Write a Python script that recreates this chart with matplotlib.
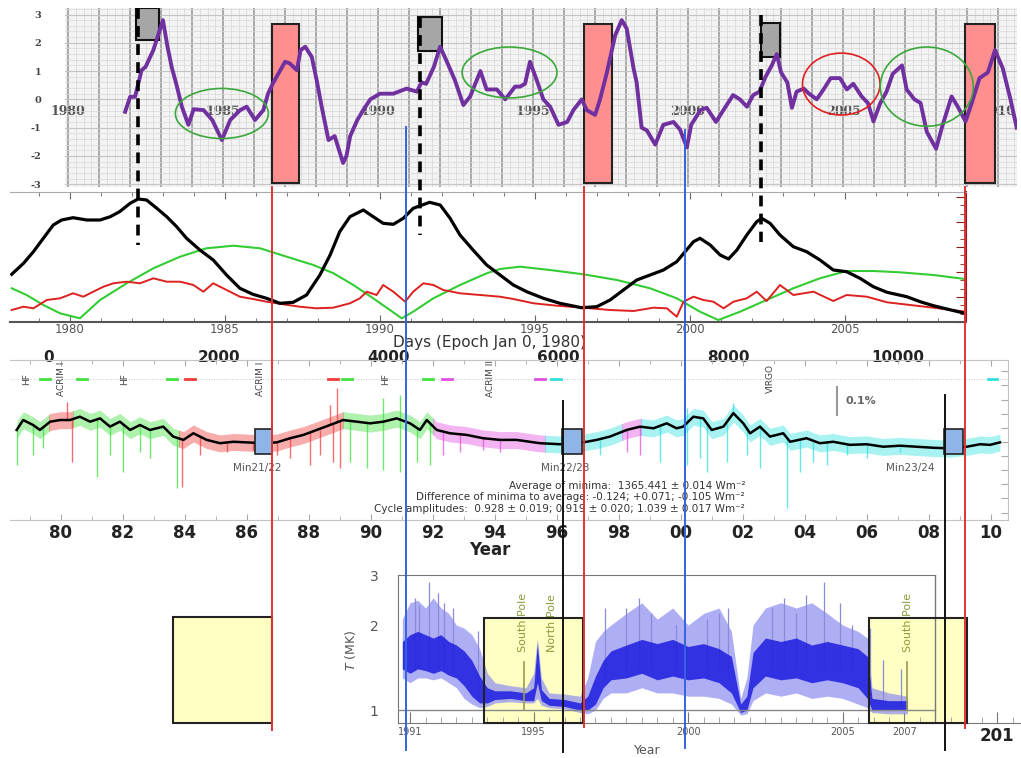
import numpy as np
import matplotlib
matplotlib.use('Agg')
import matplotlib.pyplot as plt
import matplotlib.transforms as mtransforms
from matplotlib.lines import Line2D
from matplotlib.patches import Rectangle, Ellipse
from matplotlib.ticker import MultipleLocator, NullLocator

plt.rcParams['axes.unicode_minus'] = False

W, H = 1021, 758

# ---------------- panel 1: ENSO index ----------------
enso_year = [1981.84, 1982.0, 1982.16, 1982.37, 1982.5, 1982.75, 1983.06, 1983.2, 1983.34, 1983.5,
             1983.67, 1983.88, 1984.05, 1984.37, 1984.65, 1984.96, 1985.23, 1985.55, 1985.76, 1986.03,
             1986.3, 1986.45, 1986.6, 1987.0, 1987.15, 1987.38, 1987.5, 1987.65, 1987.86, 1988.02,
             1988.18, 1988.4, 1988.6, 1988.77, 1988.87, 1988.98, 1989.1, 1989.33, 1989.52, 1989.75,
             1990.06, 1990.49, 1990.92, 1991.25, 1991.4, 1991.55, 1991.8, 1992.0, 1992.2, 1992.48,
             1992.75, 1992.97, 1993.3, 1993.5, 1993.83, 1994.1, 1994.42, 1994.58, 1994.74, 1994.9,
             1995.12, 1995.33, 1995.55, 1995.82, 1996.1, 1996.3, 1996.57, 1996.73, 1997.0, 1997.16,
             1997.38, 1997.65, 1997.86, 1998.02, 1998.24, 1998.34, 1998.5, 1998.67, 1998.94, 1999.2,
             1999.53, 1999.74, 1999.96, 2000.1, 2000.4, 2000.6, 2000.9, 2001.1, 2001.45, 2001.67,
             2001.9, 2002.1, 2002.3, 2002.5, 2002.7, 2002.86, 2003.0, 2003.2, 2003.35, 2003.5,
             2003.73, 2003.9, 2004.15, 2004.37, 2004.6, 2004.9, 2005.12, 2005.33, 2005.6, 2005.8,
             2005.98, 2006.2, 2006.4, 2006.6, 2006.9, 2007.05, 2007.3, 2007.5, 2007.7, 2008.0,
             2008.2, 2008.5, 2008.7, 2008.95, 2009.15, 2009.4, 2009.67, 2009.9, 2010.15, 2010.4,
             2010.6]
enso_val = [-0.44, 0.09, 0.09, 1.03, 1.15, 1.74, 2.8, 1.9, 1.15, 0.5,
            -0.26, -0.9, -0.35, -0.38, -0.73, -1.44, -0.73, -0.38, -0.26, -0.73,
            -0.38, 0.2, 0.55, 1.33, 1.27, 1.03, 1.74, 1.86, 1.5, 0.67,
            -0.26, -1.44, -1.3, -1.9, -2.25, -2.0, -1.3, -0.73, -0.38, 0.0,
            0.2, 0.2, 0.38, 0.27, 0.6, 0.55, 1.15, 1.86, 1.38, 0.67,
            -0.2, 0.1, 1.0, 0.35, 0.35, 0.0, 0.45, 0.45, 0.55, 1.33,
            0.67, 0.0, -0.26, -0.9, -0.8, -0.38, 0.0, -0.38, -0.55, 0.0,
            0.95, 2.27, 2.8, 2.5, 1.1, 0.6, -1.0, -1.1, -1.6, -0.9,
            -0.8, -1.07, -1.7, -0.9, -0.38, -0.3, -0.8, -0.45, 0.15, 0.0,
            -0.26, 0.15, 0.27, 0.8, 1.2, 1.6, 0.95, 0.6, -0.3, 0.27,
            0.38, 0.2, 0.0, 0.35, 0.75, 0.75, 0.35, 0.55, 0.1, -0.13,
            -0.78, -0.13, 0.27, 0.9, 1.2, 0.35, 0.0, -0.13, -1.15, -1.75,
            -0.95, 0.1, -0.26, -0.78, -0.13, 0.75, 0.95, 1.74, 1.1, 0.0,
            -1.0]
enso_label_years = [1980, 1985, 1990, 1995, 2000, 2005, 2010]
red_box_years = [(1986.57, 1987.45), (1996.65, 1997.54), (2008.94, 2009.9)]
gray_boxes = [(1982.2, 1982.94, 2.1, 3.23), (1991.3, 1992.06, 1.7, 2.9), (2002.35, 2002.95, 1.5, 2.7)]
ellipses = [(1984.96, -0.5, 3.0, 1.77, '#3aa83a'), (1994.24, 0.95, 3.06, 1.8, '#3aa83a'),
            (2004.94, 0.54, 2.5, 2.19, '#e02020'), (2007.7, 0.45, 3.0, 2.8, '#3aa83a')]

# ---------------- panel 2: sunspots / green / red ----------------
sun_year = [1978.12, 1978.5, 1978.82, 1979.14, 1979.46, 1979.73, 1980.1, 1980.54, 1980.97, 1981.3,
            1981.6, 1981.94, 1982.2, 1982.47, 1982.8, 1983.12, 1983.44, 1983.76, 1984.19, 1984.62,
            1985.05, 1985.48, 1985.9, 1986.34, 1986.77, 1987.2, 1987.63, 1988.06, 1988.39, 1988.7,
            1989.03, 1989.46, 1989.78, 1990.1, 1990.43, 1990.75, 1991.07, 1991.6, 1991.94, 1992.26,
            1992.58, 1993.0, 1993.44, 1993.87, 1994.3, 1994.73, 1995.27, 1995.8, 1996.5, 1996.99,
            1997.42, 1997.85, 1998.28, 1998.71, 1999.14, 1999.57, 1999.84, 2000.11, 2000.32, 2000.65,
            2000.97, 2001.24, 2001.51, 2001.83, 2002.15, 2002.31, 2002.58, 2002.9, 2003.33, 2003.76,
            2004.19, 2004.62, 2005.05, 2005.48, 2005.91, 2006.35, 2006.99, 2007.42, 2007.85, 2008.28,
            2008.87]
sun_val = [47.7, 58.7, 70.3, 83.7, 97, 102, 104.3, 102, 102, 105.3,
           110.3, 118.7, 123, 122, 113.7, 105.3, 95.3, 83.7, 72, 62,
           47, 33.7, 27.7, 23.7, 18.7, 19.7, 27, 47, 67, 90.3,
           105.3, 112, 105.3, 98.7, 97.7, 103.7, 113.7, 119.7, 117, 103.7,
           87, 72, 57, 47, 37, 30.3, 23.7, 18.7, 14.3, 15.3,
           22, 32, 42, 47, 52, 60.3, 70.3, 80.3, 83.7, 77,
           67, 63, 72, 87, 100.3, 103.7, 98.7, 87, 75.3, 70.3,
           62, 52, 50.3, 43.7, 35.3, 29.7, 25.3, 20.3, 16.3, 13,
           8.7]
green_year = [1978.12, 1978.6, 1979.14, 1979.68, 1980.32, 1980.97, 1981.83, 1982.69, 1983.55, 1984.4,
              1985.27, 1986.13, 1986.99, 1987.85, 1988.5, 1989.14, 1989.78, 1990.32, 1990.7, 1991.07,
              1991.72, 1992.58, 1993.44, 1993.87, 1994.52, 1995.48, 1996.56, 1997.64, 1998.71, 1999.57,
              2000.32, 2000.91, 2001.61, 2002.47, 2003.33, 2004.19, 2005.05, 2005.91, 2006.77, 2007.85,
              2008.87]
green_val = [33.7, 27, 17, 8.7, 3.7, 22, 38.7, 53.7, 65.3, 73.7,
             76.3, 73.7, 65.3, 57, 48.7, 37, 23.7, 12, 3.7, 10.3,
             23.7, 37, 48.7, 53, 55.3, 52, 47.7, 42, 33.7, 23.7,
             10.3, 2, 10.3, 22, 33.7, 43.7, 51, 51, 49.7, 47,
             43]
red_year = [1978.12, 1978.5, 1978.82, 1979.25, 1979.68, 1980.1, 1980.43, 1980.75, 1981.08, 1981.4,
            1981.83, 1982.26, 1982.69, 1983.12, 1983.55, 1983.98, 1984.3, 1984.62, 1985.05, 1985.48,
            1985.9, 1986.34, 1986.88, 1987.41, 1987.95, 1988.49, 1989.03, 1989.35, 1989.57, 1989.89,
            1990.1, 1990.43, 1990.81, 1991.07, 1991.4, 1991.72, 1992.04, 1992.58, 1993.23, 1993.87,
            1994.3, 1994.95, 1995.7, 1996.56, 1997.42, 1998.18, 1998.82, 1999.25, 1999.57, 1999.79,
            2000.11, 2000.43, 2000.75, 2001.08, 2001.4, 2001.83, 2002.15, 2002.47, 2002.9, 2003.33,
            2003.98, 2004.62, 2005.05, 2005.7, 2006.35, 2007.1, 2007.85, 2008.87]
red_val = [12, 15.3, 13.7, 22, 23.7, 28.7, 25.3, 30.3, 35.3, 38.7,
           40.3, 38.7, 43.7, 40.3, 40.3, 37, 30.3, 38.7, 32, 25.3,
           23, 20.3, 17.7, 15.3, 13.7, 14.3, 18.7, 23.7, 30.3, 27,
           37, 30.3, 20.3, 30.3, 38.7, 37, 32, 28.7, 27, 25.3,
           23, 18.7, 16.3, 14.3, 12, 11, 14.3, 13.7, 5.3, 20.3,
           25.3, 22, 20.3, 13.7, 20.3, 23.7, 30.3, 21, 37, 27,
           30.3, 21, 27, 25.3, 19.7, 17, 14.3, 10.3]
day_ticks = [0, 2000, 4000, 6000, 8000, 10000]

# ---------------- panel 3: TSI composite ----------------
tsi_year = [1978.57, 1978.78, 1979.1, 1979.32, 1979.65, 1979.97, 1980.29, 1980.61, 1980.94, 1981.26,
            1981.58, 1981.9, 1982.23, 1982.55, 1982.87, 1983.3, 1983.62, 1983.95, 1984.27, 1984.7,
            1985.13, 1985.56, 1985.99, 1986.53, 1986.96, 1987.39, 1987.82, 1988.25, 1988.68, 1989.1,
            1989.54, 1989.97, 1990.4, 1990.83, 1991.26, 1991.58, 1991.8, 1992.12, 1992.55, 1993.09,
            1993.62, 1994.16, 1994.7, 1995.45, 1996.1, 1996.85, 1997.28, 1997.71, 1998.25, 1998.68,
            1999.11, 1999.54, 1999.86, 2000.07, 2000.4, 2000.72, 2000.99, 2001.37, 2001.69, 2002.01,
            2002.23, 2002.55, 2002.87, 2003.3, 2003.52, 2004.05, 2004.48, 2004.91, 2005.45, 2005.99,
            2006.53, 2007.06, 2007.6, 2008.14, 2008.68, 2009.22, 2009.65, 2009.97, 2010.29]
tsi_val = [1365.98, 1366.46, 1366.22, 1365.98, 1366.38, 1366.46, 1366.46, 1366.62, 1366.38, 1366.54,
           1366.14, 1366.38, 1365.98, 1366.22, 1365.98, 1366.14, 1365.66, 1365.5, 1365.82, 1365.5,
           1365.34, 1365.41, 1365.38, 1365.34, 1365.38, 1365.58, 1365.74, 1365.98, 1366.22, 1366.46,
           1366.38, 1366.3, 1366.38, 1366.54, 1366.3, 1365.98, 1366.46, 1365.98, 1365.82, 1365.74,
           1365.58, 1365.5, 1365.5, 1365.34, 1365.29, 1365.38, 1365.5, 1365.66, 1365.98, 1366.14,
           1366.06, 1366.3, 1366.06, 1366.14, 1366.62, 1366.54, 1365.98, 1366.14, 1366.79, 1366.3,
           1365.82, 1366.14, 1365.66, 1365.82, 1365.41, 1365.58, 1365.34, 1365.41, 1365.26, 1365.29,
           1365.17, 1365.22, 1365.17, 1365.12, 1365.09, 1365.17, 1365.29, 1365.26, 1365.38]
# (year, low end, high end) of the single-day excursions
tsi_spikes = [(1978.57, 1364.29, 1366.0), (1979.11, 1364.77, 1366.2), (1979.43, 1365.1, 1366.1),
              (1980.35, 1364.45, 1366.5), (1981.15, 1363.72, 1366.5), (1981.58, 1364.77, 1366.2),
              (1982.01, 1363.97, 1366.3), (1982.55, 1364.93, 1366.2), (1982.87, 1364.61, 1366.0),
              (1983.73, 1363.16, 1365.6), (1983.89, 1363.24, 1365.5), (1984.48, 1364.77, 1365.7),
              (1985.35, 1364.93, 1365.4), (1986.2, 1365.01, 1365.4), (1986.96, 1364.77, 1365.4),
              (1987.39, 1364.61, 1365.6), (1988.03, 1364.29, 1365.9), (1988.35, 1364.77, 1366.0),
              (1988.78, 1364.45, 1366.3), (1989.0, 1364.13, 1366.4), (1989.32, 1364.45, 1366.4),
              (1989.86, 1364.13, 1366.3), (1990.4, 1364.05, 1366.4), (1990.94, 1363.97, 1366.5),
              (1991.47, 1364.45, 1366.1), (1991.9, 1364.29, 1366.3), (1992.33, 1364.77, 1365.9),
              (1992.87, 1364.93, 1365.8), (1993.62, 1365.01, 1365.6), (1994.16, 1364.93, 1365.5),
              (1997.39, 1364.77, 1365.5), (1998.25, 1364.93, 1366.0), (1998.68, 1364.77, 1366.1),
              (1999.32, 1364.45, 1366.2), (2000.18, 1364.29, 1366.3), (2000.61, 1364.61, 1366.6),
              (2000.83, 1363.97, 1366.3), (2001.47, 1364.45, 1366.3), (2002.12, 1364.77, 1366.1),
              (2002.55, 1364.13, 1366.1), (2003.41, 1362.2, 1365.6), (2003.84, 1363.97, 1365.5),
              (2004.27, 1364.45, 1365.5), (2004.7, 1364.29, 1365.4), (2005.35, 1364.77, 1365.3),
              (2005.99, 1364.61, 1365.3), (2007.06, 1364.93, 1365.2),
              (1980.18, 1366.5, 1367.35), (1988.68, 1366.2, 1367.19), (1988.89, 1366.3, 1368.0),
              (1990.4, 1366.4, 1367.51), (1990.94, 1366.5, 1367.67), (2000.18, 1366.3, 1367.03),
              (2001.69, 1366.8, 1367.27)]
tsi_segments = [(1978.4, 1979.6, 'g'), (1979.6, 1980.4, 'r'), (1980.4, 1983.8, 'g'), (1983.8, 1989.1, 'r'),
                (1989.1, 1992.0, 'g'), (1992.0, 1995.6, 'm'), (1995.6, 1998.1, 'c'), (1998.1, 1998.7, 'm'),
                (1998.7, 2010.4, 'c')]
tsi_instruments = [('HF', 1978.9), ('ACRIM I', 1980.03), ('HF', 1982.06), ('ACRIM I', 1986.42),
                   ('HF', 1990.48), ('ACRIM II', 1993.87), ('VIRGO', 2002.87)]
tsi_key_marks = [(1979.48, 'g'), (1980.68, 'g'), (1983.58, 'g'), (1984.16, 'r'), (1988.77, 'r'),
                 (1989.23, 'g'), (1991.84, 'g'), (1992.45, 'm'), (1995.45, 'm'), (1995.97, 'c'),
                 (2010.06, 'c')]
tsi_minima = [(1986.26, 1986.8, 'Min21/22', 1986.32), (1996.15, 1996.8, 'Min22/23', 1996.26),
              (2008.5, 2009.1, 'Min23/24', 2007.4)]
tsi_tick_years = list(range(1980, 2011, 2))
tsi_tick_labels = ['80', '82', '84', '86', '88', '90', '92', '94', '96', '98',
                   '00', '02', '04', '06', '08', '10']
tsi_notes = ['Average of minima:  1365.441 \u00b1 0.014 Wm\u207b\u00b2',
             'Difference of minima to average: -0.124; +0.071; -0.105 Wm\u207b\u00b2',
             'Cycle amplitudes:  0.928 \u00b1 0.019; 0.919 \u00b1 0.020; 1.039 \u00b1 0.017 Wm\u207b\u00b2']

# ---------------- panel 4: coronal temperature ----------------
# (year, light low, dark low, dark high, light high) in MK
corona_band = [(1990.75, 1.30, 1.40, 1.75, 2.10), (1991.0, 1.25, 1.35, 1.85, 2.40),
               (1991.25, 1.30, 1.40, 1.90, 2.45), (1991.5, 1.30, 1.38, 1.85, 2.30),
               (1991.75, 1.28, 1.35, 1.80, 2.50), (1992.0, 1.30, 1.38, 1.85, 2.30),
               (1992.25, 1.25, 1.33, 1.75, 2.20), (1992.5, 1.20, 1.30, 1.70, 2.00),
               (1992.75, 1.10, 1.22, 1.62, 1.95), (1993.0, 1.05, 1.12, 1.50, 1.85),
               (1993.25, 1.02, 1.06, 1.32, 1.65), (1993.5, 1.03, 1.06, 1.20, 1.35),
               (1993.75, 1.06, 1.09, 1.17, 1.25), (1994.25, 1.07, 1.10, 1.17, 1.22),
               (1994.75, 1.06, 1.08, 1.15, 1.20), (1995.0, 1.06, 1.08, 1.20, 1.35),
               (1995.12, 1.10, 1.25, 1.72, 1.80), (1995.25, 1.04, 1.08, 1.18, 1.30),
               (1995.5, 1.02, 1.04, 1.10, 1.15), (1996.0, 1.01, 1.03, 1.09, 1.14),
               (1996.5, 0.98, 1.00, 1.06, 1.12), (1996.75, 0.97, 1.00, 1.12, 1.30),
               (1997.0, 1.00, 1.05, 1.32, 1.75), (1997.25, 1.10, 1.20, 1.50, 1.90),
               (1997.5, 1.15, 1.28, 1.62, 2.00), (1998.0, 1.15, 1.30, 1.70, 2.20),
               (1998.5, 1.20, 1.35, 1.78, 2.40), (1999.0, 1.15, 1.28, 1.72, 2.10),
               (1999.5, 1.15, 1.32, 1.78, 2.30), (2000.0, 1.12, 1.28, 1.68, 2.00),
               (2000.5, 1.12, 1.30, 1.72, 2.20), (2001.0, 1.10, 1.25, 1.65, 2.30),
               (2001.4, 1.05, 1.15, 1.55, 1.90), (2001.7, 0.96, 0.98, 1.05, 1.10),
               (2001.9, 0.97, 1.00, 1.12, 1.30), (2002.1, 1.08, 1.20, 1.60, 2.00),
               (2002.5, 1.15, 1.32, 1.80, 2.30), (2003.0, 1.12, 1.28, 1.75, 2.40),
               (2003.5, 1.15, 1.30, 1.80, 2.30), (2004.0, 1.10, 1.25, 1.70, 2.40),
               (2004.5, 1.12, 1.28, 1.75, 2.20), (2005.0, 1.10, 1.25, 1.70, 2.00),
               (2005.5, 1.05, 1.20, 1.65, 1.90), (2005.8, 1.02, 1.10, 1.55, 1.80),
               (2005.95, 0.98, 1.00, 1.10, 1.20), (2006.5, 0.97, 1.00, 1.08, 1.15),
               (2007.1, 0.97, 1.00, 1.08, 1.12)]
corona_spikes = [(1991.15, 1.4, 2.5), (1991.3, 1.4, 2.35), (1991.6, 1.4, 2.84), (1991.9, 1.4, 2.6),
                 (1992.1, 1.4, 2.4), (1992.4, 1.35, 2.3), (1993.2, 1.1, 1.9), (1997.3, 1.3, 2.3),
                 (1998.0, 1.4, 2.3), (1998.4, 1.4, 2.5), (1998.8, 1.4, 2.2), (1999.6, 1.4, 2.0),
                 (2000.6, 1.4, 2.1), (2001.0, 1.4, 2.2), (2001.3, 1.4, 2.3), (2002.7, 1.4, 2.3),
                 (2003.1, 1.4, 2.5), (2003.5, 1.4, 2.2), (2003.8, 1.4, 2.55), (2004.4, 1.4, 2.85),
                 (2004.9, 1.4, 2.4), (2005.3, 1.4, 2.0), (2005.9, 1.2, 1.95), (2006.3, 1.05, 1.5),
                 (2006.9, 1.05, 1.4)]
pole_marks = [('South Pole', 1994.66), ('North Pole', 1995.59), ('South Pole', 2007.12)]
pole_lines = [1994.7, 2007.07]
corona_boxes = [(1993.4, 1996.61), (2005.86, 2009.01)]
corona_ticks = [1991, 1995, 2000, 2005, 2007, 2010]
corona_tick_labels = ['1991', '1995', '2000', '2005', '2007', '201']

# ---------------- event lines across panels (years on the top panel) ----------------
red_events = [1986.57, 1996.65, 2008.94]
blue_events = [1990.9, 1999.9]
black_events = [1995.97, 2008.29]
dash_events = [1982.26, 1991.35, 2002.35]

seg_colors = {'g': '#3fe03f', 'r': '#f03c3c', 'm': '#e050e0', 'c': '#30e0e0'}


def px_rect(left, top, right, bottom):
    return [left / W, 1 - bottom / H, (right - left) / W, (bottom - top) / H]


fig = plt.figure(figsize=(W / 100, H / 100), dpi=100)

# ---- panel 1 ----
ax1 = fig.add_axes(px_rect(65, 8, 1017, 187))
ax1.set_facecolor('#f3f3f3')
ax1.set_xlim(1979.9, 2010.61)
ax1.set_ylim(-3.1, 3.23)
ax1.set_axisbelow(True)
for s in ax1.spines.values():
    s.set_visible(False)
ax1.spines['bottom'].set_position(('data', 0))
years = list(range(1980, 2011))
ax1.set_xticks(years, [str(y) if y in enso_label_years else '' for y in years],
               fontsize=9, fontweight='bold', family='DejaVu Serif', color='#555')
ax1.xaxis.set_minor_locator(MultipleLocator(0.25))
ax1.set_yticks([-3, -2, -1, 0, 1, 2, 3], ['-3', '-2', '-1', '0', '1', '2', '3'],
               fontsize=7, fontweight='bold', family='DejaVu Serif', color='#444')
ax1.yaxis.set_minor_locator(MultipleLocator(0.2))
ax1.tick_params(axis='x', which='both', length=0, pad=4)
ax1.tick_params(axis='y', which='both', length=0, pad=17)
ax1.grid(which='major', axis='x', color='#a4a4a4', lw=1.3)
ax1.grid(which='minor', axis='x', color='#dadada', lw=0.6)
ax1.grid(which='major', axis='y', color='#c4c4c4', lw=0.8)
ax1.grid(which='minor', axis='y', color='#d8d8d8', lw=0.5)

for x0, x1 in red_box_years:
    ax1.add_patch(Rectangle((x0, -2.95), x1 - x0, 5.61, fc='#ff8f8f', ec='#222', lw=1.5, zorder=3))
for x0, x1, y0, y1 in gray_boxes:
    ax1.add_patch(Rectangle((x0, y0), x1 - x0, y1 - y0, fc='#a6a6a6', ec='#111', lw=1.5, zorder=3))
ax1.plot(enso_year, enso_val, color='#7030a0', lw=2.8, zorder=4, solid_joinstyle='round')
for cx, cy, w, h, c in ellipses:
    ax1.add_patch(Ellipse((cx, cy), w, h, fill=False, ec=c, lw=1.2, zorder=5))

# ---- panel 2 ----
ax2 = fig.add_axes(px_rect(10, 192, 966, 322))
ax2.set_facecolor('none')
ax2.set_xlim(1978.065, 2008.9)
ax2.set_ylim(0, 130)
ax2.plot(green_year, green_val, color='#33cc33', lw=1.5)
ax2.plot(red_year, red_val, color='#dd2020', lw=1.4)
ax2.plot(sun_year, sun_val, color='k', lw=2.3)
ax2.spines['left'].set_visible(False)
ax2.spines['top'].set_color('#aaaaaa')
ax2.spines['bottom'].set_color('#555555')
ax2.spines['bottom'].set_linewidth(1.5)
ax2.spines['right'].set_color('#8b1a1a')
ax2.spines['right'].set_linewidth(1.5)
ax2.set_xticks(range(1980, 2006, 5), [str(y) for y in range(1980, 2006, 5)], fontsize=8.5, color='#555')
ax2.xaxis.set_minor_locator(MultipleLocator(1))
ax2.tick_params(axis='x', which='both', direction='in', top=True, color='#666', pad=0.5)
ax2.tick_params(axis='x', which='major', length=5)
ax2.tick_params(axis='x', which='minor', length=3)
ax2.yaxis.tick_right()
ax2.yaxis.set_major_locator(MultipleLocator(25))
ax2.yaxis.set_minor_locator(MultipleLocator(25 / 3))
ax2.tick_params(axis='y', which='both', direction='in', color='#8b1a1a', labelright=False)
ax2.tick_params(axis='y', which='major', length=7)
ax2.tick_params(axis='y', which='minor', length=4)
sec = ax2.secondary_xaxis('bottom', functions=(lambda y: (y - 1979.32) * 365.25,
                                               lambda d: d / 365.25 + 1979.32))
sec.set_xticks(day_ticks, [str(d) for d in day_ticks], fontsize=11, fontweight='bold', color='#222')
sec.tick_params(length=0, pad=20)
sec.spines['bottom'].set_visible(False)
ax2.text(0.502, -0.16, 'Days (Epoch Jan 0, 1980)', transform=ax2.transAxes, ha='center', va='center',
         fontsize=11, color='#333')

# ---- panel 3 ----
ax3 = fig.add_axes(px_rect(10, 360, 1008, 520))
ax3.set_facecolor('none')
ax3.set_xlim(1978.355, 2010.55)
ax3.set_ylim(1361.63, 1369.36)
ty = np.array(tsi_year)
tv = np.array(tsi_val)
for s0, s1, c in tsi_segments:
    band = ax3.fill_between(ty, tv - 0.42, tv + 0.4, color=seg_colors[c], alpha=0.42, lw=0)
    band.set_clip_path(Rectangle((s0, 1361), s1 - s0, 10, transform=ax3.transData))
sp = np.array(tsi_spikes)


def seg_of(yr):
    for s0, s1, c in tsi_segments:
        if s0 <= yr < s1:
            return seg_colors[c]
    return seg_colors['c']


ax3.vlines(sp[:, 0], sp[:, 1], sp[:, 2], colors=[seg_of(v) for v in sp[:, 0]], lw=1.0, alpha=0.75)
ax3.plot(tsi_year, tsi_val, color='k', lw=1.8)
for x0, x1, label, lx in tsi_minima:
    ax3.add_patch(Rectangle((x0, 1364.82), x1 - x0, 1.21, fc='#8fb4e6', ec='#222', lw=1.2, zorder=4))
    ax3.text(lx, 1364.16, label, ha='center', va='center', fontsize=7.5, color='#555')
ax3.axhline(1368.45, color='#cccccc', lw=0.7, ls=':')
for name, x in tsi_instruments:
    ax3.text(x, 1368.45, name, rotation=90, ha='center', va='center', fontsize=6.5, color='#444')
for x, c in tsi_key_marks:
    ax3.plot([x - 0.15, x + 0.15], [1368.45, 1368.45], color=seg_colors[c], lw=2)
ax3.plot([2005.03, 2005.03], [1366.7, 1366.7 + 0.001 * 1365.4], color='#999', lw=1.5)
ax3.text(2005.3, 1367.4, '0.1%', ha='left', va='center', fontsize=8, fontweight='bold', color='#666')
for i, note in enumerate(tsi_notes):
    ax3.text(0.7365, 0.215 - i * 0.072, note, transform=ax3.transAxes, ha='right', va='center',
             fontsize=7.5, color='#333')
ax3.set_xticks(tsi_tick_years, tsi_tick_labels, fontsize=12, fontweight='bold', color='#222')
ax3.xaxis.set_minor_locator(MultipleLocator(1))
ax3.tick_params(axis='x', which='both', direction='in', top=True, color='#aaa', pad=3)
ax3.tick_params(axis='x', which='major', length=4)
ax3.tick_params(axis='x', which='minor', length=3)
ax3.yaxis.tick_right()
ax3.yaxis.set_major_locator(MultipleLocator(0.6827))
ax3.tick_params(axis='y', direction='in', color='#aaa', length=5, labelright=False)
for s in ax3.spines.values():
    s.set_color('#c4c4c4')
    s.set_linewidth(0.8)
ax3.spines['left'].set_visible(False)
ax3.text(0.481, -0.19, 'Year', transform=ax3.transAxes, ha='center', va='center',
         fontsize=12, fontweight='bold', color='#222')

# ---- panel 4 ----
ax4 = fig.add_axes(px_rect(398, 575, 1020, 723))
ax4.set_facecolor('none')
ax4.set_yscale('log')
ax4.set_xlim(1990.61, 2010.74)
ax4.set_ylim(0.9, 3.01)
for x0, x1 in corona_boxes:
    ax4.add_patch(Rectangle((x0, 0.9), x1 - x0, 1.22, fc='#ffffc4', ec='none', zorder=1, clip_on=False))
cb = np.array(corona_band)
ax4.fill_between(cb[:, 0], cb[:, 1], cb[:, 4], color='#8c8cf0', alpha=0.7, lw=0, zorder=2)
cs = np.array(corona_spikes)
ax4.vlines(cs[:, 0], cs[:, 1], cs[:, 2], colors='#8a8ad8', lw=0.9, zorder=2)
ax4.fill_between(cb[:, 0], cb[:, 2], cb[:, 3], color='#1c1ce0', alpha=0.85, lw=0, zorder=3)
for x0, x1 in corona_boxes:
    ax4.add_patch(Rectangle((x0, 0.9), x1 - x0, 1.22, fill=False, ec='#222', lw=1.5, zorder=4, clip_on=False))
ax4.plot([1990.61, 2008.0], [1.0, 1.0], color='#888', lw=1, zorder=3)
ax4.plot([2008.0, 2008.0], [0.9, 3.01], color='#777', lw=1, zorder=3)
for x in pole_lines:
    ax4.plot([x, x], [1.0, 1.48], color='#9a9a50', lw=1.2, zorder=4)
for name, x in pole_marks:
    ax4.text(x, 1.6, name, rotation=90, ha='center', va='bottom', fontsize=8, color='#8a9a3a', zorder=5)
ax4.spines['right'].set_visible(False)
ax4.spines['top'].set_bounds(1990.61, 2008.0)
for s in ax4.spines.values():
    s.set_color('#777')
ax4.set_yticks([1, 2, 3], ['1', '2', '3'], fontsize=10, color='#555')
ax4.yaxis.set_minor_locator(NullLocator())
ax4.tick_params(axis='y', length=0, pad=14)
ax4.set_xticks(corona_ticks, corona_tick_labels, fontsize=7, color='#555')
last = ax4.get_xticklabels()[-1]
last.set_fontsize(12)
last.set_fontweight('bold')
last.set_color('#222')
ax4.xaxis.set_minor_locator(MultipleLocator(0.5))
ax4.tick_params(axis='x', which='major', direction='in', length=8, color='#777', pad=3)
ax4.tick_params(axis='x', which='minor', direction='in', length=4, color='#999')
ax4.text(0.40, -0.185, 'Year', transform=ax4.transAxes, ha='center', va='center', fontsize=9, color='#555')
ax4.text(-0.077, 0.49, '$T$ (MK)', transform=ax4.transAxes, rotation=90, ha='center', va='center',
         fontsize=9, color='#555')

# ---- lines and box that run across panels ----
blend = mtransforms.blended_transform_factory(ax1.transData, fig.transFigure)
fig.add_artist(Rectangle((1983.39, 1 - 723 / H), red_events[0] - 1983.39, 106 / H, transform=blend,
                         fc='#ffffc4', ec='#222', lw=1.5, zorder=4))


def cross_line(x, top, bottom, **kw):
    fig.add_artist(Line2D([x, x], [1 - top / H, 1 - bottom / H], transform=blend, zorder=5, **kw))


for x, bot in zip(red_events, [730, 727, 728]):
    cross_line(x, 187, bot, color='#e03434', lw=1.4)
for x, top, bot in zip(blue_events, [127, 130], [750, 748]):
    cross_line(x, top, bot, color='#3563e0', lw=1.4)
for x, top, bot in zip(black_events, [401, 395], [752, 750]):
    cross_line(x, top, bot, color='#111', lw=1.4)
for x, top, bot in zip(dash_events, [8, 17, 15], [245, 235, 242]):
    cross_line(x, top, bot, color='k', lw=2.6, ls=(0, (3, 2)))

fig.savefig('out.png', dpi=100)
